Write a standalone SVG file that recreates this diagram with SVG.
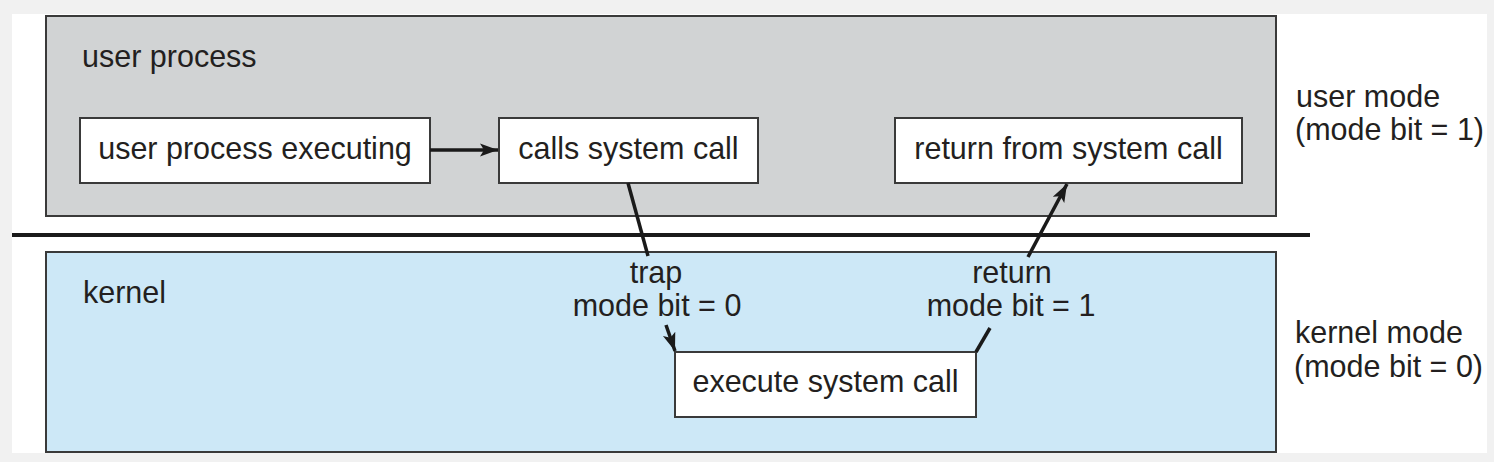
<svg xmlns="http://www.w3.org/2000/svg" width="1494" height="462" viewBox="0 0 1494 462">
<style>
text{font-family:"Liberation Sans",Arial,Helvetica,sans-serif;font-size:30.5px;fill:#231f20}
.mid{text-anchor:middle}
.box{fill:#fff;stroke:#3a3a3a;stroke-width:2}
.region{stroke:#3a3a3a;stroke-width:2}
.conn{stroke:#1a1a1a;stroke-width:3.5;fill:none}
</style>
<defs>
<marker id="ah" markerUnits="userSpaceOnUse" markerWidth="20" markerHeight="16" refX="18" refY="8" orient="auto">
<path d="M0,1.5 L18,8 L0,14.5 L4,8 Z" fill="#1a1a1a"/>
</marker>
</defs>
<rect x="0" y="0" width="1494" height="462" fill="#f1f1f1"/>
<rect x="12" y="14" width="1475" height="439" fill="#fff"/>
<g id="user-process">
<rect class="region" x="46" y="16" width="1230" height="200" fill="#d1d3d4"/>
<text x="82" y="67">user process</text>
</g>
<g id="kernel">
<rect class="region" x="46" y="252" width="1230" height="200" fill="#cde8f7"/>
<text x="83" y="303">kernel</text>
</g>
<g id="divider">
<line x1="12" y1="235" x2="1310" y2="235" stroke="#1a1a1a" stroke-width="4"/>
</g>
<g id="user-process-executing">
<rect class="box" x="80" y="118" width="350" height="65"/>
<text class="mid" x="255" y="159">user process executing</text>
</g>
<g id="calls-system-call">
<rect class="box" x="499" y="118" width="259" height="65"/>
<text class="mid" x="628.5" y="159">calls system call</text>
</g>
<g id="return-from-system-call">
<rect class="box" x="895" y="118" width="347" height="65"/>
<text class="mid" x="1068.5" y="159">return from system call</text>
</g>
<g id="execute-system-call">
<rect class="box" x="675" y="352" width="301" height="65"/>
<text class="mid" x="825.5" y="392">execute system call</text>
</g>
<g id="user-mode">
<text x="1296" y="107">user mode</text>
<text x="1295" y="140">(mode bit = 1)</text>
</g>
<g id="kernel-mode">
<text x="1295" y="343">kernel mode</text>
<text x="1294" y="377">(mode bit = 0)</text>
</g>
<g id="connectors">
<line class="conn" x1="430" y1="150" x2="498" y2="150" marker-end="url(#ah)"/>
<line class="conn" x1="628" y1="183" x2="648" y2="256"/>
<line class="conn" x1="666" y1="325" x2="675" y2="351" marker-end="url(#ah)"/>
<line class="conn" x1="976" y1="352" x2="990" y2="328"/>
<line class="conn" x1="1028" y1="257" x2="1067" y2="184" marker-end="url(#ah)"/>
<text class="mid" x="656" y="283">trap</text>
<text class="mid" x="657" y="316">mode bit = 0</text>
<text class="mid" x="1012" y="283">return</text>
<text class="mid" x="1011" y="316">mode bit = 1</text>
</g>
</svg>
